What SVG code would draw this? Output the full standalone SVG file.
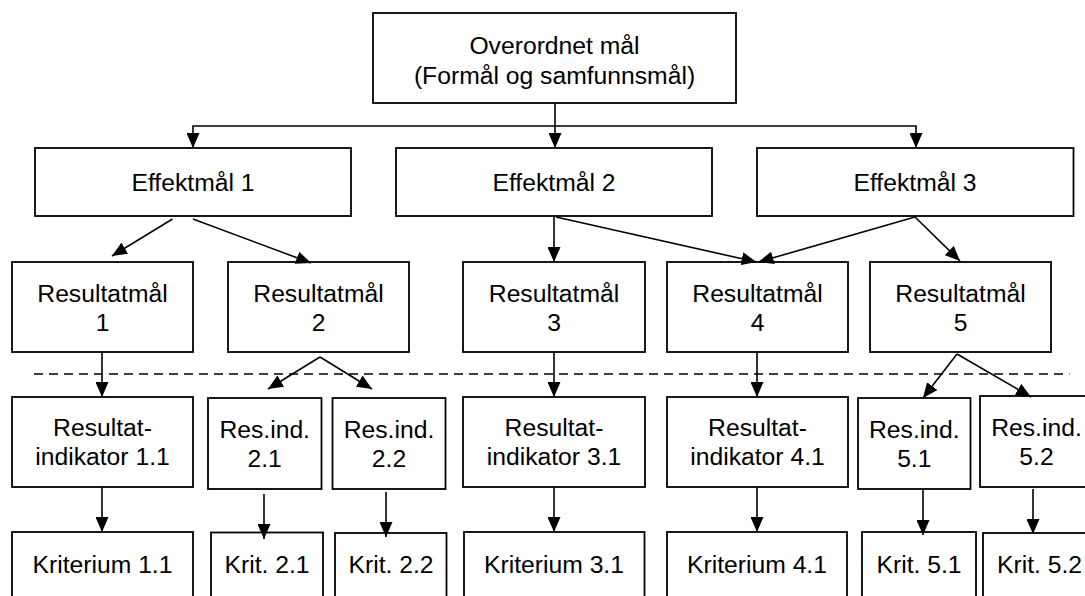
<svg xmlns="http://www.w3.org/2000/svg" width="1085" height="596" viewBox="0 0 1085 596">
  <defs>
    <style>
      .box { fill: #ffffff; stroke: #000000; stroke-width: 1.8; }
      .lbl { font-family: "Liberation Sans", Arial, sans-serif; font-size: 24.7px; fill: #000000; text-anchor: middle; }
      .conn { fill: none; stroke: #000000; stroke-width: 1.6; marker-end: url(#arrow); }
      .sep { fill: none; stroke: #000000; stroke-width: 1.5; stroke-dasharray: 9 6; }
    </style>
    <marker id="arrow" markerUnits="userSpaceOnUse" markerWidth="15" markerHeight="13" refX="15" refY="6.5" orient="auto">
      <path d="M0,0 L15,6.5 L0,13 Z" fill="#000000"/>
    </marker>
  </defs>

  <rect width="1085" height="596" fill="#ffffff"/>

  <!-- top level -->
  <g id="overordnet">
    <rect class="box" x="373" y="13" width="363" height="90"/>
    <text class="lbl" x="554.5" y="54">Overordnet mål</text>
    <text class="lbl" x="554.5" y="84">(Formål og samfunnsmål)</text>
  </g>

  <!-- effect goals -->
  <g id="effektmal-1">
    <rect class="box" x="35" y="148" width="316" height="68"/>
    <text class="lbl" x="193" y="191">Effektmål 1</text>
  </g>
  <g id="effektmal-2">
    <rect class="box" x="396" y="148" width="316" height="68"/>
    <text class="lbl" x="554" y="191">Effektmål 2</text>
  </g>
  <g id="effektmal-3">
    <rect class="box" x="757" y="148" width="316.5" height="68"/>
    <text class="lbl" x="915" y="191">Effektmål 3</text>
  </g>

  <!-- result goals -->
  <g id="resultatmal-1">
    <rect class="box" x="12" y="262" width="181" height="90"/>
    <text class="lbl" x="102.5" y="302">Resultatmål</text>
    <text class="lbl" x="102.5" y="331">1</text>
  </g>
  <g id="resultatmal-2">
    <rect class="box" x="228" y="262" width="181" height="90"/>
    <text class="lbl" x="318.5" y="302">Resultatmål</text>
    <text class="lbl" x="318.5" y="331">2</text>
  </g>
  <g id="resultatmal-3">
    <rect class="box" x="463" y="262" width="182" height="90"/>
    <text class="lbl" x="554" y="302">Resultatmål</text>
    <text class="lbl" x="554" y="331">3</text>
  </g>
  <g id="resultatmal-4">
    <rect class="box" x="667" y="262" width="181" height="90"/>
    <text class="lbl" x="757.5" y="302">Resultatmål</text>
    <text class="lbl" x="757.5" y="331">4</text>
  </g>
  <g id="resultatmal-5">
    <rect class="box" x="870" y="262" width="181" height="90"/>
    <text class="lbl" x="960.5" y="302">Resultatmål</text>
    <text class="lbl" x="960.5" y="331">5</text>
  </g>

  <!-- result indicators -->
  <g id="indikator-1-1">
    <rect class="box" x="12" y="397" width="181" height="90"/>
    <text class="lbl" x="102.5" y="436">Resultat-</text>
    <text class="lbl" x="102.5" y="465">indikator 1.1</text>
  </g>
  <g id="indikator-2-1">
    <rect class="box" x="208" y="398" width="113.5" height="91"/>
    <text class="lbl" x="264.7" y="438">Res.ind.</text>
    <text class="lbl" x="264.7" y="467">2.1</text>
  </g>
  <g id="indikator-2-2">
    <rect class="box" x="332.5" y="398" width="113" height="91"/>
    <text class="lbl" x="389" y="438">Res.ind.</text>
    <text class="lbl" x="389" y="467">2.2</text>
  </g>
  <g id="indikator-3-1">
    <rect class="box" x="463" y="397" width="182" height="90"/>
    <text class="lbl" x="554" y="436">Resultat-</text>
    <text class="lbl" x="554" y="465">indikator 3.1</text>
  </g>
  <g id="indikator-4-1">
    <rect class="box" x="667" y="397" width="181" height="90"/>
    <text class="lbl" x="757.5" y="436">Resultat-</text>
    <text class="lbl" x="757.5" y="465">indikator 4.1</text>
  </g>
  <g id="indikator-5-1">
    <rect class="box" x="858" y="398" width="112.5" height="91"/>
    <text class="lbl" x="914.3" y="438">Res.ind.</text>
    <text class="lbl" x="914.3" y="467">5.1</text>
  </g>
  <g id="indikator-5-2">
    <rect class="box" x="980" y="396" width="113" height="91"/>
    <text class="lbl" x="1036.5" y="436">Res.ind.</text>
    <text class="lbl" x="1036.5" y="465">5.2</text>
  </g>

  <!-- criteria (run past the lower edge) -->
  <g id="kriterium-1-1">
    <rect class="box" x="12" y="532" width="181" height="90"/>
    <text class="lbl" x="102.5" y="573">Kriterium 1.1</text>
  </g>
  <g id="krit-2-1">
    <rect class="box" x="211" y="532.5" width="112" height="90"/>
    <text class="lbl" x="267" y="573">Krit. 2.1</text>
  </g>
  <g id="krit-2-2">
    <rect class="box" x="335" y="533" width="111.5" height="90"/>
    <text class="lbl" x="391" y="573">Krit. 2.2</text>
  </g>
  <g id="kriterium-3-1">
    <rect class="box" x="464" y="532" width="180.5" height="90"/>
    <text class="lbl" x="554" y="573">Kriterium 3.1</text>
  </g>
  <g id="kriterium-4-1">
    <rect class="box" x="667" y="532" width="180" height="90"/>
    <text class="lbl" x="757" y="573">Kriterium 4.1</text>
  </g>
  <g id="krit-5-1">
    <rect class="box" x="862" y="532" width="114" height="90"/>
    <text class="lbl" x="919" y="573">Krit. 5.1</text>
  </g>
  <g id="krit-5-2">
    <rect class="box" x="983" y="533" width="113" height="90"/>
    <text class="lbl" x="1039.5" y="573">Krit. 5.2</text>
  </g>

  <!-- separator between goals and indicators -->
  <path class="sep" d="M34,374 H1069.5"/>

  <!-- connectors -->
  <g id="connectors">
    <path class="conn" d="M555,103 V148"/>
    <path class="conn" d="M555,126 H193 V148"/>
    <path class="conn" d="M555,126 H916 V148"/>

    <path class="conn" d="M172.5,219 L112,256"/>
    <path class="conn" d="M193,219 L311,263"/>
    <path class="conn" d="M554,216 V262"/>
    <path class="conn" d="M556,217 L756.5,262"/>
    <path class="conn" d="M915,217 L758.5,262"/>
    <path class="conn" d="M915,217 L960,261"/>

    <path class="conn" d="M102,352 V397"/>
    <path class="conn" d="M320,357 L268,389"/>
    <path class="conn" d="M320,357 L372,389"/>
    <path class="conn" d="M554,352 V397"/>
    <path class="conn" d="M757,352 V397"/>
    <path class="conn" d="M957,354 L923,398"/>
    <path class="conn" d="M957,354 L1031,397"/>

    <path class="conn" d="M102,487 V532"/>
    <path class="conn" d="M264,494 V539"/>
    <path class="conn" d="M386,492 V537"/>
    <path class="conn" d="M554,487 V532"/>
    <path class="conn" d="M757,487 V532"/>
    <path class="conn" d="M923,489 V535"/>
    <path class="conn" d="M1033,489 V534"/>
  </g>
</svg>
